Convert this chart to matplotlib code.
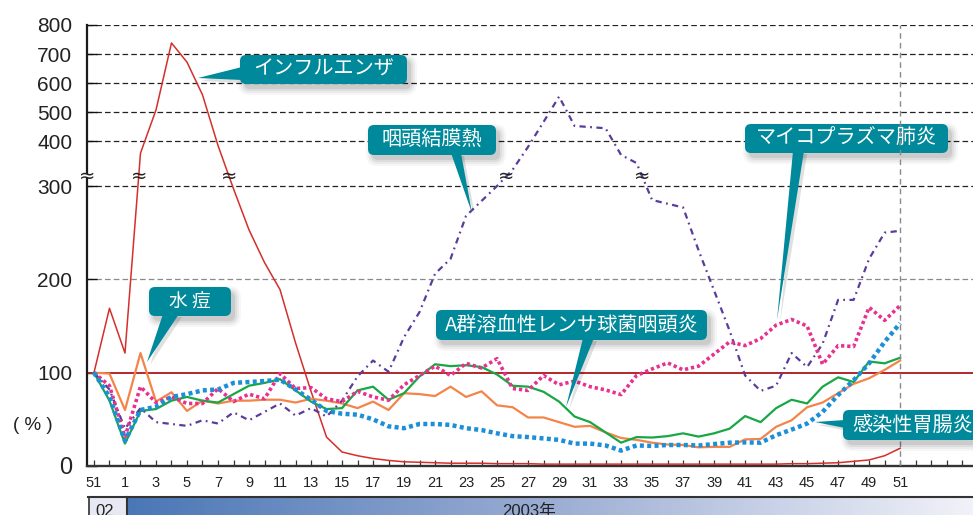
import numpy as np
import matplotlib
matplotlib.use("Agg")
import matplotlib.pyplot as plt
from matplotlib.patches import FancyBboxPatch, Polygon, Rectangle
from matplotlib.lines import Line2D
from matplotlib.transforms import IdentityTransform
from matplotlib.colors import LinearSegmentedColormap

plt.rcParams['font.family'] = ['Liberation Sans', 'Noto Sans CJK JP', 'DejaVu Sans']

# ---------------- data (index 0 = week 51 of 2002, last = week 51 of 2003) ----------------
week_labels = ["51", "52"] + [str(w) for w in range(1, 52)]

influenza = [100, 169, 121, 373, 507, 738, 672, 559, 390, 297,
             253, 218, 189, 132, 80, 31, 15, 11, 8, 6,
             4.5, 4, 3.5, 3, 3, 3, 2.5, 2.5, 2.5, 2,
             2, 2, 2, 2, 2, 2, 2, 2, 2, 2,
             2, 2, 2, 2, 2, 2.5, 2.5, 3, 3.5, 5,
             6.5, 11, 19]

chickenpox = [100, 99, 60, 121, 69, 79, 59, 70, 67, 70,
              70, 71, 71, 68, 72, 70, 67, 62, 69, 60,
              78, 77, 75, 85, 74, 80, 65, 63, 52, 52,
              47, 42, 43, 36, 30, 28, 25, 23, 22.5, 20,
              20.5, 20.5, 28.5, 29, 42, 49, 63, 68, 78, 88,
              94, 103, 113]

pharyngoconj = [100, 82, 40, 62, 47, 45, 43, 49, 45.5, 57.5,
                49, 58, 67, 54, 62, 53, 70, 96, 113, 101,
                138, 165, 206, 222, 268, 284, 300, 336, 387, 466,
                553, 452, 448, 444, 369, 351, 285, 281, 277, 231,
                188, 145, 97, 80.5, 86, 121, 106, 131, 178, 178,
                222, 250, 252]

strep_a = [100, 70, 24, 59, 61, 70, 74, 70, 68, 77,
           86, 89, 93, 81, 69, 61, 62, 81, 85, 71,
           78, 96, 109, 107, 108, 106, 98, 86, 85, 79.5,
           69, 53, 47, 36, 25, 31, 30.5, 32, 35, 31.5,
           35, 40, 53.5, 47, 62, 71, 67, 85, 95, 90,
           112, 110, 116]

mycoplasma = [100, 86, 31, 85, 68, 74, 67, 67, 83, 69,
              77, 72, 99, 83, 84, 72, 69, 80, 74, 70.5,
              87, 97, 107, 97, 110, 105, 115, 83, 81, 97,
              87, 91, 85, 81.5, 76.5, 97, 104, 110.5, 103, 107,
              120, 133, 129, 136.5, 151, 157, 150, 109, 129, 128,
              170, 156, 172]

gastro = [100, 74, 27, 60, 63.5, 74, 77, 81, 82, 89,
          90, 91, 92.5, 82, 71, 59, 56, 55, 50, 42.5,
          40.5, 45, 45, 44, 40.5, 38.5, 35, 32, 31, 29.5,
          28, 24, 24, 22, 16.5, 22, 21.5, 22.5, 22.5, 22,
          23.5, 25, 25.3, 25, 33, 39, 45.5, 58, 76, 92,
          110, 133, 153]

y_ticks = [0, 100, 200, 300, 400, 500, 600, 700, 800]
grid_levels = [200, 300, 400, 500, 600, 700, 800]
baseline = 100
break_level = 322
year_labels = ["02", "2003年"]
unit_label = "( % )"

# ---------------- figure ----------------
W, H = 973, 515
fig = plt.figure(figsize=(W / 100, H / 100), dpi=100)
fig.patch.set_facecolor('white')
PX = IdentityTransform()

AX_L, AX_R, AX_T, AX_B = 87, 973, 25, 466
ax = fig.add_axes([AX_L / W, 1 - AX_B / H, (AX_R - AX_L) / W, (AX_B - AX_T) / H])
ax.set_facecolor('none')

BRK_IN = np.array([0., 300., 400., 800.])
BRK_OUT = np.array([0., 300., 348.2, 472.5])


def fwd(v):
    v = np.asarray(v, dtype=float)
    out = np.interp(v, BRK_IN, BRK_OUT)
    out = np.where(v > 800, 472.5 + (v - 800) * 0.3107, out)
    out = np.where(v < 0, v, out)
    return out


def inv(u):
    u = np.asarray(u, dtype=float)
    out = np.interp(u, BRK_OUT, BRK_IN)
    out = np.where(u > 472.5, 800 + (u - 472.5) / 0.3107, out)
    out = np.where(u < 0, u, out)
    return out


ax.set_yscale('function', functions=(fwd, inv))
ax.set_ylim(0, 800)
x = np.arange(len(week_labels))
ax.set_xlim(-0.45, 56.7)

# grid & reference lines
for g in grid_levels:
    ax.axhline(g, color='#8a8a8a' if g == 200 else '#222222', lw=0.9,
               dashes=(4.5, 2.5), zorder=1)
ax.axhline(baseline, color='#b1272d', lw=1.4, zorder=2)

# series
ax.plot(x, influenza, color='#d42f2b', lw=1.1, zorder=3)
ax.plot(x, chickenpox, color='#f4844a', lw=1.6, zorder=3)
ax.plot(x, strep_a, color='#17a845', lw=1.6, zorder=4)
l, = ax.plot(x, pharyngoconj, color='#5a3c9a', lw=1.6, zorder=4)
l.set_dashes((2.8, 2.0, 0.8, 2.0))
l, = ax.plot(x, mycoplasma, color='#e8318f', lw=2.6, zorder=5)
l.set_dashes((0.9, 0.8))
l, = ax.plot(x, gastro, color='#1b8fd8', lw=3.2, zorder=6)
l.set_dashes((0.9, 0.75))

# ticks
xt = np.arange(57)
labels = [''] * len(xt)
labels[0] = week_labels[0]
for i in range(2, len(x), 2):
    labels[i] = week_labels[i]
ax.set_xticks(xt)
ax.set_xticklabels(labels, family=['Liberation Sans Narrow', 'Liberation Sans'],
                   fontsize=10.5, color='#222222')
ax.tick_params(axis='x', direction='in', length=4.5, width=0.9, color='#333333', pad=7)
ax.set_yticks(y_ticks)
ax.set_yticklabels([str(t) for t in y_ticks], fontsize=15, color='#222222')
ax.get_yticklabels()[0].set_fontsize(17)
ax.tick_params(axis='y', direction='in', length=7.5, width=1.0, color='#111111', pad=10.5)
ax.yaxis.set_minor_locator(matplotlib.ticker.NullLocator())
ax.xaxis.set_minor_locator(matplotlib.ticker.NullLocator())

for s in ['top', 'right']:
    ax.spines[s].set_visible(False)
ax.spines['left'].set_linewidth(1.6)
ax.spines['left'].set_color('#1a1a1a')
ax.spines['bottom'].set_linewidth(1.7)
ax.spines['bottom'].set_color('#333333')


# break marks where lines cross the axis break
def crossings(vals, level):
    t = fwd(np.array(vals, dtype=float))
    L = float(fwd(level))
    res = []
    for i in range(len(t) - 1):
        a, b = t[i] - L, t[i + 1] - L
        if a * b < 0:
            res.append(i + a / (a - b))
    return res


brk_x = [ax.get_xlim()[0]] + crossings(influenza, break_level) + crossings(pharyngoconj, break_level)
for k, bx in enumerate(brk_x):
    X, Y = ax.transData.transform((bx, break_level))
    if k == 0:
        ax.add_patch(Rectangle((X - 3, Y - 2), 6, 4, transform=PX, fc='white', ec='none',
                               zorder=7, clip_on=False))
    ax.text(X, Y, '≈', transform=PX, ha='center', va='center', fontsize=14,
            family='DejaVu Sans', color='#222222', zorder=8, clip_on=False)

# ---------------- callouts ----------------
TEAL = '#00899a'


def callout(text, box, tri, tpos=None, fs=14.5, z=10):
    x0, y0, x1, y1 = box
    # soft shadow
    for grow, a in [(6, 0.035), (4, 0.045), (2, 0.06), (0, 0.08)]:
        ax.add_patch(FancyBboxPatch((x0 + 4 - grow, H - (y1 + 5 + grow)),
                                    (x1 - x0) + 2 * grow, (y1 - y0) + 2 * grow,
                                    boxstyle='round,pad=0,rounding_size=%d' % (6 + grow),
                                    transform=PX, fc='black', ec='none', alpha=a,
                                    zorder=z - 1, clip_on=False))
    ax.add_patch(Polygon([(px + 3, H - py - 3) for px, py in tri], closed=True,
                         transform=PX, fc='black', ec='none', alpha=0.12,
                         zorder=z - 1, clip_on=False))
    ax.add_patch(FancyBboxPatch((x0, H - y1), x1 - x0, y1 - y0,
                                boxstyle='round,pad=0,rounding_size=6',
                                transform=PX, fc=TEAL, ec='none', zorder=z, clip_on=False))
    ax.add_patch(Polygon([(px, H - py) for px, py in tri], closed=True,
                         transform=PX, fc=TEAL, ec='none', zorder=z, clip_on=False))
    if tpos is None:
        tpos = ((x0 + x1) / 2, (y0 + y1) / 2)
    ax.text(tpos[0], H - tpos[1], text, transform=PX, ha='center', va='center',
            color='white', fontsize=fs, family=['Noto Sans CJK JP'], zorder=z + 0.5,
            clip_on=False)


callout('インフルエンザ', (240, 55, 407, 84), [(242, 67), (242, 80), (198, 78)])
callout('咽頭結膜熱', (368, 125, 496, 155), [(451, 153), (461, 153), (472, 213)])
callout('マイコプラズマ肺炎', (745, 124, 948, 153), [(793, 151), (804, 151), (777, 320)])
callout('水 痘', (149, 287, 231, 316), [(163, 314), (179, 314), (147, 362)], fs=13.5)
callout('A群溶血性レンサ球菌咽頭炎', (436, 310, 707, 340), [(583, 338), (594, 338), (566, 407)])
callout('感染性胃腸炎', (843, 410, 995, 440), [(845, 420), (845, 428), (815, 422)],
        tpos=(913, 425), z=13)

# current-week marker
ax.axvline(x[-1], color='#8a8a8a', lw=1.0, dashes=(4, 3), zorder=11.5)

# unit label
fig.text(33, H - 425, unit_label, transform=PX, ha='center', va='center',
         fontsize=13.5, color='#222222')

# ---------------- year band ----------------
BAND_T = 497
gax = fig.add_axes([127 / W, 0, (AX_R - 127) / W, (H - BAND_T) / H])
cmap = LinearSegmentedColormap.from_list('band', ['#4a77b6', '#9badd3', '#f1f2f9'])
gax.imshow(np.linspace(0, 1, 256)[None, :], aspect='auto', cmap=cmap,
           extent=[0, 1, 0, 1])
gax.set_axis_off()
fig.patches.append(Rectangle((88, 0), 127 - 88, H - BAND_T, transform=PX,
                             fc='#e6e9f3', ec='none', figure=fig))
fig.lines.append(Line2D([88, AX_R], [H - BAND_T, H - BAND_T], transform=PX,
                        color='#333333', lw=1.5, figure=fig))
fig.lines.append(Line2D([88.5, 88.5], [0, H - BAND_T], transform=PX,
                        color='#333333', lw=1.2, figure=fig))
fig.lines.append(Line2D([127, 127], [0, H - BAND_T], transform=PX,
                        color='#333333', lw=1.5, figure=fig))
fig.text(105, H - 511, year_labels[0], transform=PX, ha='center', va='center',
         fontsize=12, color='#222222')
fig.text(529, H - 511, year_labels[1], transform=PX, ha='center', va='center',
         fontsize=12, color='#222222', family=['Liberation Sans', 'Noto Sans CJK JP'])

fig.savefig('out.png', dpi=100)
